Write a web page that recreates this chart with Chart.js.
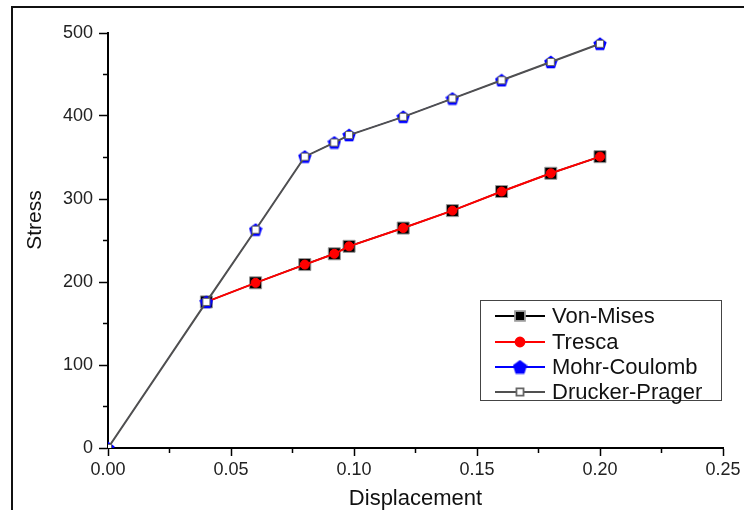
<!DOCTYPE html>
<html>
<head>
<meta charset="utf-8">
<title>Stress vs Displacement</title>
<script src="https://cdn.jsdelivr.net/npm/chart.js@4.4.1/dist/chart.umd.min.js"></script>
<style>
  body { margin: 0; background: #fff; }
  #wrap { width: 744px; height: 510px; }
</style>
</head>
<body>
<div id="wrap"><canvas id="chart" width="744" height="510"></canvas></div>
<script>
// datos
const dispUpper = [0, 0.04, 0.06, 0.08, 0.092, 0.098, 0.12, 0.14, 0.16, 0.18, 0.20];
const dispLower = [0.04, 0.06, 0.08, 0.092, 0.098, 0.12, 0.14, 0.16, 0.18, 0.20];

const vonMises = [176, 199, 221, 234, 243, 265, 286, 309, 331, 351];
const tresca = [176, 199, 221, 234, 243, 265, 286, 309, 331, 351];
const mohrCoulomb = [0, 176, 263, 351, 368, 377, 399, 421, 443, 465, 487];
const druckerPrager = [0, 176, 263, 351, 368, 377, 399, 421, 443, 465, 487];

const xTicksMinor = [0.025, 0.075, 0.125, 0.175, 0.225];
const yTicksMinor = [50, 150, 250, 350, 450];

const fontFamily = '"Liberation Sans", Arial, sans-serif';

function toPoints(xs, ys) {
    return xs.map((x, i) => ({ x: x, y: ys[i] }));
}

// pentagono para Mohr-Coulomb
function pentagon(size, color) {
    const c = document.createElement('canvas');
    c.width = size; c.height = size;
    const g = c.getContext('2d');
    const r = size / 2;
    g.beginPath();
    for (let i = 0; i < 5; i++) {
        const a = -Math.PI / 2 + i * 2 * Math.PI / 5;
        const px = r + r * Math.cos(a);
        const py = r + 0.6 + r * Math.sin(a);
        if (i === 0) g.moveTo(px, py); else g.lineTo(px, py);
    }
    g.closePath();
    g.fillStyle = color;
    g.fill();
    return c;
}
const pent = pentagon(14, '#0000ff');
const pentLegend = pentagon(15, '#0000ff');

const frameAndMinor = {
    id: 'frameAndMinor',
    afterDraw(chart) {
        const ctx = chart.ctx;
        const xs = chart.scales.x, ys = chart.scales.y;
        ctx.save();
        // minor ticks
        ctx.strokeStyle = '#000';
        ctx.lineWidth = 1.5;
        xTicksMinor.forEach(v => {
            const px = xs.getPixelForValue(v);
            ctx.beginPath();
            ctx.moveTo(px, ys.bottom);
            ctx.lineTo(px, ys.bottom + 5);
            ctx.stroke();
        });
        yTicksMinor.forEach(v => {
            const py = ys.getPixelForValue(v);
            ctx.beginPath();
            ctx.moveTo(xs.left, py);
            ctx.lineTo(xs.left - 5, py);
            ctx.stroke();
        });
        // outer frame
        ctx.lineWidth = 2;
        ctx.strokeStyle = '#111';
        ctx.beginPath();
        ctx.moveTo(12, 510);
        ctx.lineTo(12, 7);
        ctx.lineTo(744, 7);
        ctx.stroke();

        // y title
        ctx.save();
        ctx.translate(35, 220);
        ctx.rotate(-Math.PI / 2);
        ctx.fillStyle = '#111';
        ctx.font = '21px ' + fontFamily;
        ctx.textAlign = 'center';
        ctx.textBaseline = 'middle';
        ctx.fillText('Stress', 0, 0);
        ctx.restore();

        // legend
        const bx = 480.5, by = 300.5, bw = 241, bh = 100;
        ctx.fillStyle = '#fff';
        ctx.fillRect(bx, by, bw, bh);
        ctx.lineWidth = 1;
        ctx.strokeStyle = '#444';
        ctx.strokeRect(bx, by, bw, bh);
        const rows = [316, 342, 367, 392];
        const legendRadius = [7, 4.5, 0, 5];
        chart.data.datasets.forEach((ds, i) => {
            const y = rows[i];
            ctx.strokeStyle = ds.borderColor;
            ctx.lineWidth = 1.8;
            ctx.beginPath();
            ctx.moveTo(495, y);
            ctx.lineTo(545, y);
            ctx.stroke();
            ctx.fillStyle = ds.pointBackgroundColor;
            ctx.strokeStyle = ds.pointBorderColor;
            Chart.helpers.drawPoint(ctx, {
                pointStyle: i === 2 ? pentLegend : ds.pointStyle,
                radius: legendRadius[i],
                rotation: 0,
                borderWidth: ds.pointBorderWidth
            }, 520, y);
            ctx.fillStyle = '#111';
            ctx.font = '22px ' + fontFamily;
            ctx.textBaseline = 'middle';
            ctx.textAlign = 'left';
            ctx.fillText(ds.label, 552, y + 1);
        });
        ctx.restore();
    }
};

const ctx = document.getElementById('chart').getContext('2d');

new Chart(ctx, {
    type: 'line',
    data: {
        datasets: [{
            label: 'Von-Mises',
            data: toPoints(dispLower, vonMises),
            borderColor: '#000',
            borderWidth: 1.5,
            pointStyle: 'rect',
            pointRadius: 8.5,
            pointBackgroundColor: '#000',
            pointBorderColor: '#9a9a9a',
            pointBorderWidth: 1,
            order: 4
        }, {
            label: 'Tresca',
            data: toPoints(dispLower, tresca),
            borderColor: '#ff0000',
            borderWidth: 2,
            pointStyle: 'circle',
            pointRadius: 4.5,
            pointBackgroundColor: '#ff0000',
            pointBorderColor: '#ff0000',
            pointBorderWidth: 1,
            order: 3
        }, {
            label: 'Mohr-Coulomb',
            data: toPoints(dispUpper, mohrCoulomb),
            borderColor: '#0000ff',
            borderWidth: 1,
            pointStyle: pent,
            pointRadius: 7,
            pointBackgroundColor: '#0000ff',
            pointBorderColor: '#0000ff',
            pointBorderWidth: 0,
            clip: 0,
            order: 2
        }, {
            label: 'Drucker-Prager',
            data: toPoints(dispUpper, druckerPrager),
            borderColor: '#505050',
            borderWidth: 2,
            pointStyle: 'rect',
            pointRadius: 5,
            pointBackgroundColor: '#fff',
            pointBorderColor: '#666',
            pointBorderWidth: 1,
            clip: 0,
            order: 1
        }]
    },
    options: {
        responsive: false,
        animation: false,
        layout: { padding: { top: 33, right: 21, left: 0, bottom: 0 } },
        plugins: {
            legend: { display: false },
            tooltip: { enabled: false }
        },
        scales: {
            x: {
                type: 'linear',
                min: 0,
                max: 0.25,
                afterFit: s => { s.height = 62; },
                border: { display: true, color: '#000', width: 2 },
                grid: { drawOnChartArea: false, tickLength: 8, tickColor: '#000', tickWidth: 1.5 },
                ticks: {
                    stepSize: 0.05,
                    padding: 3,
                    color: '#222',
                    font: { family: fontFamily, size: 18 },
                    callback: v => v.toFixed(2)
                },
                title: {
                    display: true,
                    text: 'Displacement',
                    color: '#111',
                    padding: { top: 0, bottom: 0 },
                    font: { family: fontFamily, size: 22, lineHeight: 1 }
                }
            },
            y: {
                min: 0,
                max: 500,
                afterFit: s => { s.width = 108; },
                border: { display: true, color: '#000', width: 2 },
                grid: { drawOnChartArea: false, tickLength: 9, tickColor: '#000', tickWidth: 1.5 },
                ticks: {
                    stepSize: 100,
                    padding: 6,
                    color: '#222',
                    font: { family: fontFamily, size: 18 }
                },
                title: { display: false }
            }
        }
    },
    plugins: [frameAndMinor]
});
</script>
</body>
</html>
